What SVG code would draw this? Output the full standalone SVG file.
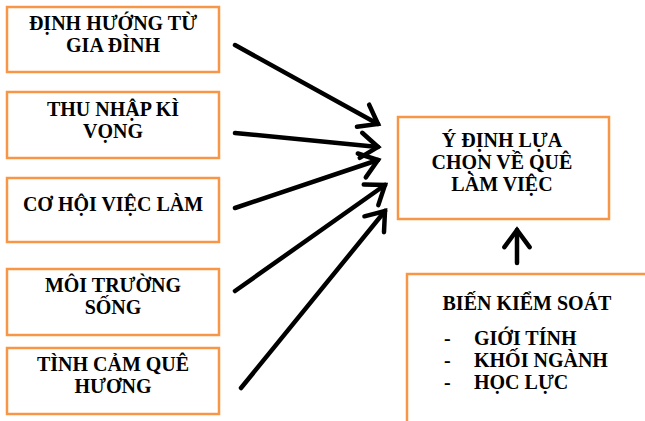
<svg xmlns="http://www.w3.org/2000/svg" width="645" height="421" viewBox="0 0 645 421">
<defs>
<style>
.box{fill:#fff;stroke:#F79646;stroke-width:2.5}
.t{font-family:"Liberation Serif","Times New Roman",serif;font-weight:bold;font-size:20px;fill:#000;text-anchor:middle}
.l{text-anchor:start}
.c{fill:none;stroke:#000;stroke-width:4.5;stroke-linecap:round}
</style>
<marker id="ah" markerWidth="8" markerHeight="8" refX="5" refY="4" orient="auto" markerUnits="strokeWidth" viewBox="0 0 8 8">
<path d="M1.2,1.2 L5,4 L1.2,6.8" fill="none" stroke="#000" stroke-width="1" stroke-linecap="round" stroke-linejoin="miter"/>
</marker>
</defs>
<rect width="645" height="421" fill="#fff"/>
<g id="n1"><rect class="box" x="7" y="7" width="212" height="65"/><text class="t" x="113" y="30">ĐỊNH HƯỚNG TỪ</text><text class="t" x="113" y="52">GIA ĐÌNH</text></g>
<g id="n2"><rect class="box" x="7" y="92" width="212" height="66"/><text class="t" x="113" y="116">THU NHẬP KÌ</text><text class="t" x="113" y="138">VỌNG</text></g>
<g id="n3"><rect class="box" x="7" y="178" width="212" height="64"/><text class="t" x="113" y="211">CƠ HỘI VIỆC LÀM</text></g>
<g id="n4"><rect class="box" x="7" y="269" width="212" height="66"/><text class="t" x="113" y="292">MÔI TRƯỜNG</text><text class="t" x="113" y="314">SỐNG</text></g>
<g id="n5"><rect class="box" x="7" y="348" width="212" height="66"/><text class="t" x="113" y="371">TÌNH CẢM QUÊ</text><text class="t" x="113" y="393">HƯƠNG</text></g>
<g id="n6"><rect class="box" x="398" y="117" width="211" height="102"/><text class="t" x="502" y="147">Ý ĐỊNH LỰA</text><text class="t" x="502" y="169">CHỌN VỀ QUÊ</text><text class="t" x="502" y="191">LÀM VIỆC</text></g>
<g id="n7"><rect class="box" x="407" y="274" width="250" height="160"/><text class="t" x="527" y="310">BIẾN KIỂM SOÁT</text><text class="t l" x="444" y="345">-</text><text class="t l" x="474" y="345">GIỚI TÍNH</text><text class="t l" x="444" y="367">-</text><text class="t l" x="474" y="367">KHỐI NGÀNH</text><text class="t l" x="444" y="389">-</text><text class="t l" x="474" y="389">HỌC LỰC</text></g>
<g id="connectors">
<line class="c" x1="235" y1="45" x2="378" y2="124" marker-end="url(#ah)"/>
<line class="c" x1="235" y1="133" x2="378" y2="147" marker-end="url(#ah)"/>
<line class="c" x1="235" y1="208" x2="378" y2="160" marker-end="url(#ah)"/>
<line class="c" x1="235" y1="291" x2="385" y2="185" marker-end="url(#ah)"/>
<line class="c" x1="241" y1="388" x2="385" y2="211" marker-end="url(#ah)"/>
<line class="c" x1="517" y1="263" x2="517" y2="230" marker-end="url(#ah)"/>
</g>
</svg>
